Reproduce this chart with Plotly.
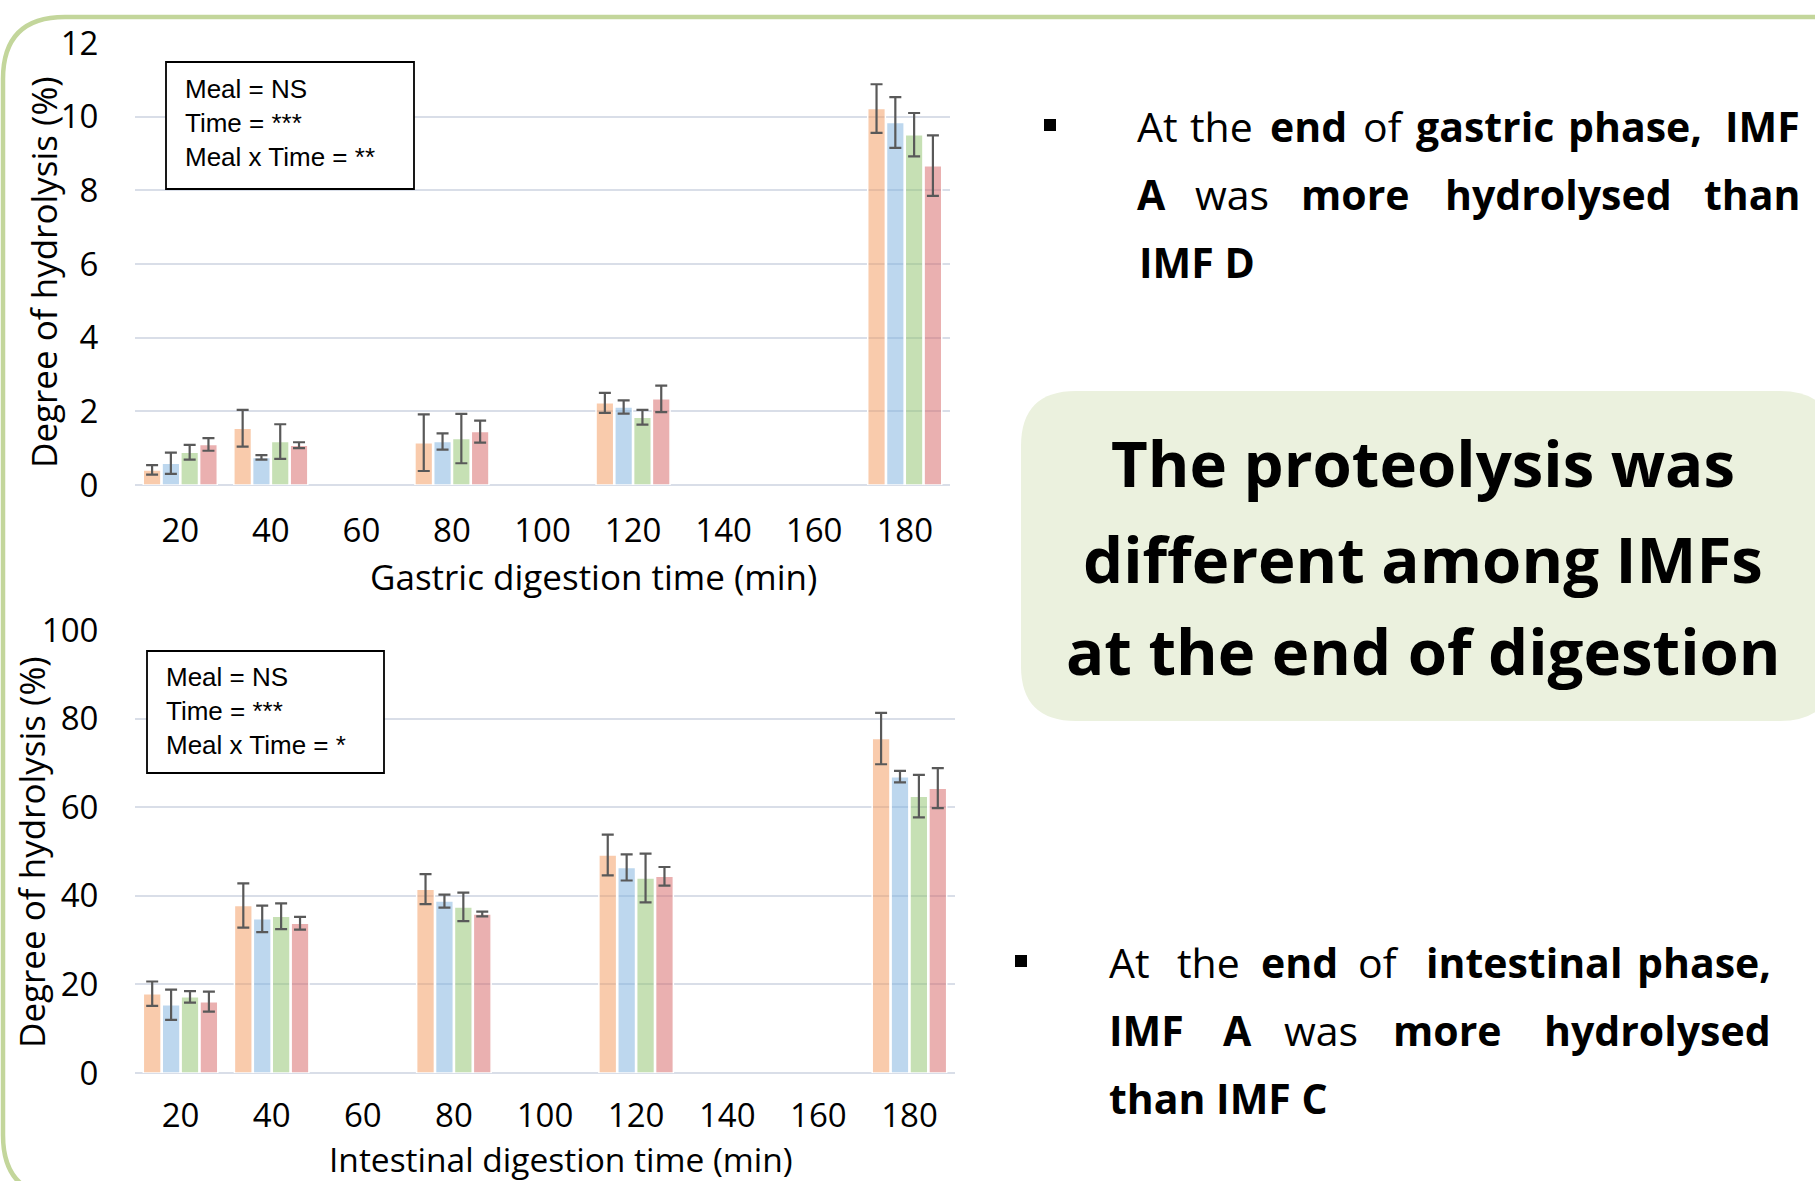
import plotly.graph_objects as go

W, H = 1815, 1181

# ---------------- data ----------------
time_categories = ["20", "40", "60", "80", "100", "120", "140", "160", "180"]
sample_times = ["20", "40", "80", "120", "180"]
formulas = ["IMF A", "IMF B", "IMF C", "IMF D"]

gastric_A = [0.41, 1.54, 1.15, 2.23, 10.22]
gastric_A_err = [0.13, 0.50, 0.77, 0.27, 0.66]
gastric_B = [0.59, 0.75, 1.18, 2.12, 9.84]
gastric_B_err = [0.29, 0.06, 0.22, 0.18, 0.69]
gastric_C = [0.89, 1.18, 1.26, 1.84, 9.51]
gastric_C_err = [0.20, 0.47, 0.67, 0.20, 0.59]
gastric_D = [1.10, 1.08, 1.45, 2.34, 8.67]
gastric_D_err = [0.17, 0.08, 0.30, 0.36, 0.82]

intestinal_A = [17.9, 37.8, 41.5, 49.2, 75.5]
intestinal_A_err = [2.75, 5.0, 3.4, 4.6, 5.8]
intestinal_B = [15.4, 34.8, 38.8, 46.4, 66.9]
intestinal_B_err = [3.4, 3.0, 1.45, 2.95, 1.3]
intestinal_C = [17.2, 35.4, 37.5, 44.0, 62.5]
intestinal_C_err = [1.3, 2.9, 3.2, 5.5, 4.8]
intestinal_D = [16.1, 33.8, 35.9, 44.4, 64.3]
intestinal_D_err = [2.25, 1.45, 0.55, 2.1, 4.5]

gastric_stats = ["Meal = NS", "Time = ***", "Meal x Time = **"]
intestinal_stats = ["Meal = NS", "Time = ***", "Meal x Time = *"]

colors = ["rgba(244,151,90,0.5)", "rgba(123,175,222,0.5)",
          "rgba(141,193,105,0.5)", "rgba(214,97,97,0.5)"]

gastric_vals = [gastric_A, gastric_B, gastric_C, gastric_D]
gastric_errs = [gastric_A_err, gastric_B_err, gastric_C_err, gastric_D_err]
intestinal_vals = [intestinal_A, intestinal_B, intestinal_C, intestinal_D]
intestinal_errs = [intestinal_A_err, intestinal_B_err, intestinal_C_err, intestinal_D_err]


def px(x):
    return x / W


def py(y):
    return 1 - y / H


fig = go.Figure()

for i, name in enumerate(formulas):
    fig.add_trace(go.Bar(
        x=sample_times, y=gastric_vals[i], name=name,
        marker=dict(color=colors[i], line=dict(color="white", width=1.5)),
        error_y=dict(type="data", array=gastric_errs[i], visible=True,
                     color="#595959", thickness=2.2, width=6),
        xaxis="x", yaxis="y", showlegend=False))
for i, name in enumerate(formulas):
    fig.add_trace(go.Bar(
        x=sample_times, y=intestinal_vals[i], name=name,
        marker=dict(color=colors[i], line=dict(color="white", width=1.5)),
        error_y=dict(type="data", array=intestinal_errs[i], visible=True,
                     color="#595959", thickness=2.2, width=6),
        xaxis="x2", yaxis="y2", showlegend=False))

tickfont = dict(family="Open Sans", size=33, color="#000000")
grid_color = "#D9DEE8"

xcommon = dict(type="category", categoryorder="array", categoryarray=time_categories,
               range=[-0.5, 8.5], showgrid=False, showline=False, zeroline=False,
               ticks="outside", tickcolor="rgba(0,0,0,0)",
               tickfont=tickfont, fixedrange=True, automargin=False)
ycommon = dict(showgrid=True, gridcolor=grid_color, gridwidth=2, showline=False,
               zeroline=True, zerolinecolor=grid_color, zerolinewidth=2,
               ticks="outside", ticklen=29, tickcolor="rgba(0,0,0,0)",
               tickfont=tickfont, fixedrange=True, automargin=False)

fig.update_layout(
    width=W, height=H, autosize=False,
    margin=dict(l=0, r=0, t=0, b=0, pad=0, autoexpand=False),
    paper_bgcolor="white", plot_bgcolor="white",
    barmode="group", bargap=0.17, bargroupgap=0.06,
    xaxis=dict(domain=[px(135), px(950)], anchor="y", ticklen=16, **xcommon),
    yaxis=dict(domain=[py(485), py(43)], anchor="x", range=[0, 12], dtick=2, **ycommon),
    xaxis2=dict(domain=[px(135), px(955)], anchor="y2", ticklen=13, **xcommon),
    yaxis2=dict(domain=[py(1073), py(630)], anchor="x2", range=[0, 100], dtick=20, **ycommon),
    font=dict(family="Open Sans", color="#000000"),
)

shapes = []
ann = []

# outer green rounded border
r = 62
border_path = (f"M {px(1830)},{py(17)} L {px(3 + r)},{py(17)} "
               f"Q {px(3)},{py(17)} {px(3)},{py(17 + r)} "
               f"L {px(3)},{py(1197 - r)} Q {px(3)},{py(1197)} {px(3 + r)},{py(1197)} "
               f"L {px(1830)},{py(1197)}")
shapes.append(dict(type="path", xref="paper", yref="paper", path=border_path,
                   line=dict(color="#C3D69B", width=4.5), layer="below"))

# green conclusion box
r2 = 55
x0, x1, y0, y1 = 1021, 1835, 391, 721
box_path = (f"M {px(x0 + r2)},{py(y0)} L {px(x1 - r2)},{py(y0)} "
            f"Q {px(x1)},{py(y0)} {px(x1)},{py(y0 + r2)} L {px(x1)},{py(y1 - r2)} "
            f"Q {px(x1)},{py(y1)} {px(x1 - r2)},{py(y1)} L {px(x0 + r2)},{py(y1)} "
            f"Q {px(x0)},{py(y1)} {px(x0)},{py(y1 - r2)} L {px(x0)},{py(y0 + r2)} "
            f"Q {px(x0)},{py(y0)} {px(x0 + r2)},{py(y0)} Z")
shapes.append(dict(type="path", xref="paper", yref="paper", path=box_path,
                   fillcolor="#EBF1DE", line=dict(width=0), layer="below"))

# stats boxes
for (bx0, by0, bx1, by1) in [(166, 62, 414, 189), (147, 651, 384, 773)]:
    shapes.append(dict(type="rect", xref="paper", yref="paper",
                       x0=px(bx0), x1=px(bx1), y0=py(by1), y1=py(by0),
                       line=dict(color="#000000", width=1.8), fillcolor="white", layer="above"))

statfont = dict(family="Liberation Sans", size=26, color="#000000")
for j, t in enumerate(gastric_stats):
    ann.append(dict(xref="paper", yref="paper", x=px(183), y=py(89 + 34 * j), text=t,
                    showarrow=False, xanchor="left", yanchor="middle", font=statfont))
for j, t in enumerate(intestinal_stats):
    ann.append(dict(xref="paper", yref="paper", x=px(164), y=py(677 + 34 * j), text=t,
                    showarrow=False, xanchor="left", yanchor="middle", font=statfont))

# axis titles
titlefont = dict(family="Open Sans", size=35, color="#000000")
ann.append(dict(xref="paper", yref="paper", x=px(593), y=py(576),
                text="Gastric digestion time (min)", showarrow=False,
                xanchor="center", yanchor="middle", font=titlefont))
ann.append(dict(xref="paper", yref="paper", x=px(561), y=py(1159),
                text="Intestinal digestion time (min)", showarrow=False,
                xanchor="center", yanchor="middle",
                font=dict(family="Open Sans", size=33.5, color="#000000")))
ann.append(dict(xref="paper", yref="paper", x=px(43), y=py(272),
                text="Degree of hydrolysis (%)", showarrow=False, textangle=-90,
                xanchor="center", yanchor="middle", font=titlefont))
ann.append(dict(xref="paper", yref="paper", x=px(31), y=py(852),
                text="Degree of hydrolysis (%)", showarrow=False, textangle=-90,
                xanchor="center", yanchor="middle", font=titlefont))

# bullets
for (bx, by) in [(1050, 125), (1021, 961)]:
    shapes.append(dict(type="rect", xref="paper", yref="paper",
                       x0=px(bx - 6), x1=px(bx + 6), y0=py(by + 6), y1=py(by - 6),
                       line=dict(width=0), fillcolor="#000000"))

bfont = dict(family="Open Sans", size=41, color="#000000")
# (word, x, bold, anchor)
top_words = [
    (126, [("At", 1135, False, "left"), ("the", 1188, False, "left"), ("end", 1268, True, "left"),
           ("of", 1361, False, "left"), ("gastric", 1414, True, "left"),
           ("phase,", 1566, True, "left"), ("IMF", 1802, True, "right")]),
    (194, [("A", 1135, True, "left"), ("was", 1193, False, "left"), ("more", 1299, True, "left"),
           ("hydrolysed", 1443, True, "left"), ("than", 1802, True, "right")]),
    (262, [("IMF D", 1137, True, "left")]),
]
bottom_words = [
    (962, [("At", 1107, False, "left"), ("the", 1175, False, "left"), ("end", 1259, True, "left"),
           ("of", 1356, False, "left"), ("intestinal", 1424, True, "left"),
           ("phase,", 1773, True, "right")]),
    (1030, [("IMF", 1107, True, "left"), ("A", 1221, True, "left"), ("was", 1282, False, "left"),
            ("more", 1391, True, "left"), ("hydrolysed", 1773, True, "right")]),
    (1098, [("than IMF C", 1107, True, "left")]),
]
for yline, words in top_words + bottom_words:
    for w, xw, bold, anc in words:
        ann.append(dict(xref="paper", yref="paper", x=px(xw), y=py(yline),
                        text=f"<b>{w}</b>" if bold else w, showarrow=False,
                        xanchor=anc, yanchor="middle", font=bfont))

# conclusion text
cfont = dict(family="Open Sans", size=63.5, color="#000000")
for t, yl in [("The proteolysis was", 462), ("different among IMFs", 558),
              ("at the end of digestion", 650)]:
    ann.append(dict(xref="paper", yref="paper", x=px(1423), y=py(yl),
                    text=f"<b>{t}</b>", showarrow=False, xanchor="center",
                    yanchor="middle", font=cfont))

fig.update_layout(shapes=shapes, annotations=ann)

post = ("document.documentElement.style.margin='0';"
        "document.documentElement.style.overflow='hidden';"
        "document.body.style.margin='0';document.body.style.padding='0';"
        "document.body.style.overflow='hidden';"
        "var gd=document.getElementById('{plot_id}');"
        "gd.style.position='fixed';gd.style.top='0px';gd.style.left='0px';")
fig.write_html("out.html", post_script=post, config={"displayModeBar": False})
